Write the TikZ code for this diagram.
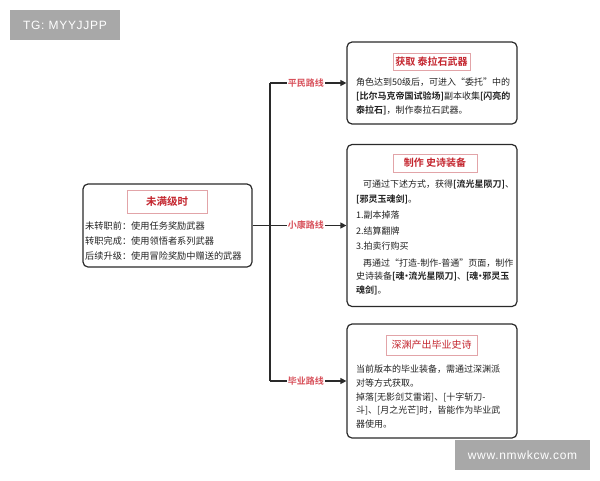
\documentclass[tikz,border=0pt]{standalone}
\usepackage{fontspec}
\setmainfont{Noto Sans CJK SC}[BoldFont={Noto Sans CJK SC Bold}]
\newfontfamily\latinfont[LetterSpace=6]{Liberation Sans}
\usetikzlibrary{arrows.meta}
\definecolor{ttred}{HTML}{C4252E}
\definecolor{lblred}{HTML}{D8505A}
\definecolor{tbord}{HTML}{E2A4A8}
\definecolor{linec}{HTML}{2A2A2A}
\definecolor{badge}{HTML}{A8A8A8}
\definecolor{txtc}{HTML}{222222}
\newcommand{\dotsep}{\kern-2.5pt•\kern-2.5pt}
\begin{document}
\begin{tikzpicture}[x=1pt,y=-1pt,
  bigbox/.style={draw=linec, line width=1.2pt, rounded corners=5pt, inner sep=0pt},
  titlebox/.style={draw=tbord, line width=0.8pt, fill=white, inner sep=0pt, text=ttred, font=\bfseries\fontsize{10}{12}\selectfont},
  txt/.style={inner sep=0pt, align=left, text=txtc, font=\fontsize{9}{13.6}\selectfont},
  conn/.style={draw=linec, line width=1.2pt},
  arr/.style={conn, -{Triangle[length=6pt,width=6pt]}},
  lbl/.style={fill=white, inner sep=1pt, text=lblred, font=\bfseries\fontsize{9}{10}\selectfont},
  wmark/.style={fill=badge, inner sep=0pt, text=white, font=\latinfont\fontsize{12}{14}\selectfont}
]
\useasboundingbox (0,0) rectangle (600,480);

% badges
\node[wmark, minimum width=110pt, minimum height=30pt] (tg) at (65,25) {TG: MYYJJPP};
\node[wmark, minimum width=135pt, minimum height=30pt] (wm) at (522.5,455) {www.nmwkcw.com};

% left box
\node[bigbox, minimum width=169pt, minimum height=83pt] (left) at (167.5,225.5) {};
\node[titlebox, minimum width=80pt, minimum height=23pt] (lefttitle) at (167,201.5) {\fontsize{10.5}{12}\selectfont 未满级时};
\node[txt, anchor=north west, font=\fontsize{9.2}{15}\selectfont] (lefttxt) at (85,222) {未转职前：使用任务奖励武器\\转职完成：使用领悟者系列武器\\后续升级：使用冒险奖励中赠送的武器};

% top box
\node[bigbox, minimum width=170pt, minimum height=82pt] (topbox) at (432,83) {};
\node[titlebox, minimum width=77pt, minimum height=17pt] (toptitle) at (431.5,61.5) {获取 泰拉石武器};
\node[txt, anchor=north west] (toptxt) at (356,78) {角色达到50级后，可进入“委托”中的\\\textbf{[比尔马克帝国试验场]}副本收集\textbf{[闪亮的}\\\textbf{泰拉石]}，制作泰拉石武器。};

% middle box
\node[bigbox, minimum width=170pt, minimum height=162pt] (midbox) at (432,225.5) {};
\node[titlebox, minimum width=84pt, minimum height=18pt] (midtitle) at (435,163) {制作 史诗装备};
\node[txt, anchor=north west] (midtxt) at (356,180) {\hspace{7pt}可通过下述方式，获得\textbf{[流光星陨刀]}、\\[1.5pt]\textbf{[邪灵玉魂剑]}。\\[2pt]1.副本掉落\\[2pt]2.结算翻牌\\[2pt]3.拍卖行购买\\[3pt]\hspace{7pt}再通过“打造-制作-普通”页面，制作\\史诗装备\textbf{[魂\dotsep 流光星陨刀]}、\textbf{[魂\dotsep 邪灵玉}\\\textbf{魂剑]}。};

% bottom box
\node[bigbox, minimum width=170pt, minimum height=114pt] (botbox) at (432,381) {};
\node[titlebox, minimum width=91pt, minimum height=20pt] (bottitle) at (431.5,345) {\fontsize{10}{12}\selectfont\mdseries 深渊产出毕业史诗};
\node[txt, anchor=north west] (bottxt) at (356,365) {当前版本的毕业装备，需通过深渊派\\对等方式获取。\\掉落[无影剑艾雷诺]、[十字斩刀-\\斗]、[月之光芒]时，皆能作为毕业武\\器使用。};

% connectors
\coordinate (j) at (270,225.5);
\draw[conn] (left.east) -- (j);
\draw[conn] (j |- topbox.west) -- (j |- botbox.west);
\draw[arr] (j |- topbox.west) -- (topbox.west) node[lbl, pos=0.47] (l1) {平民路线};
\draw[arr] (j) -- (midbox.west) node[lbl, pos=0.47] (l2) {小康路线};
\draw[arr] (j |- botbox.west) -- (botbox.west) node[lbl, pos=0.47] (l3) {毕业路线};
\end{tikzpicture}
\end{document}
